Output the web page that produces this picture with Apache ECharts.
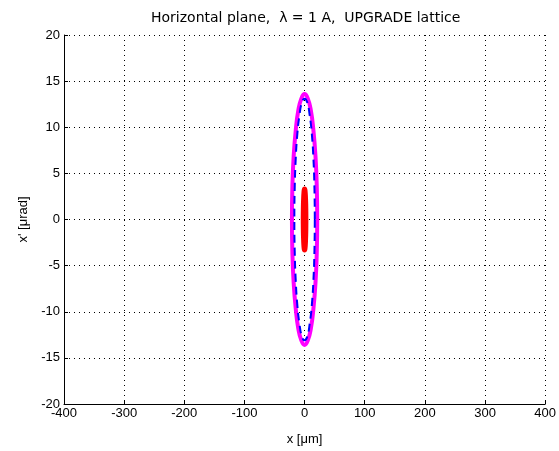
<!DOCTYPE html>
<html>
<head>
<meta charset="utf-8">
<script src="https://cdn.jsdelivr.net/npm/echarts@6/dist/echarts.min.js"></script>
<style>html,body{margin:0;padding:0;background:#fff}#c{width:559px;height:451px}</style>
</head>
<body>
<div id="c"></div>
<script>
// Points (x in μm, x' in μrad), traced around each closed curve
const magentaX = [21, 20.3, 18.2, 14.8, 10.5, 5.4, 0, -5.4, -10.5, -14.8, -18.2, -20.3, -21, -20.3, -18.2, -14.8, -10.5, -5.4, 0, 5.4, 10.5, 14.8, 18.2, 20.3, 21];
const magentaY = [0, 3.5, 6.8, 9.6, 11.8, 13.1, 13.6, 13.1, 11.8, 9.6, 6.8, 3.5, 0, -3.5, -6.8, -9.6, -11.8, -13.1, -13.6, -13.1, -11.8, -9.6, -6.8, -3.5, 0];
const blueX = [17, 16.4, 14.7, 12.0, 8.5, 4.4, 0, -4.4, -8.5, -12.0, -14.7, -16.4, -17, -16.4, -14.7, -12.0, -8.5, -4.4, 0, 4.4, 8.5, 12.0, 14.7, 16.4, 17];
const blueY = [0, 3.4, 6.6, 9.3, 11.3, 12.7, 13.1, 12.7, 11.3, 9.3, 6.6, 3.4, 0, -3.4, -6.6, -9.3, -11.3, -12.7, -13.1, -12.7, -11.3, -9.3, -6.6, -3.4, 0];
const redX = [2.2, 2.1, 1.9, 1.55, 1.1, 0.55, 0, -0.55, -1.1, -1.55, -1.9, -2.1, -2.2, -2.1, -1.9, -1.55, -1.1, -0.55, 0, 0.55, 1.1, 1.55, 1.9, 2.1, 2.2];
const redY = [0, 0.85, 1.65, 2.3, 2.85, 3.2, 3.3, 3.2, 2.85, 2.3, 1.65, 0.85, 0, -0.85, -1.65, -2.3, -2.85, -3.2, -3.3, -3.2, -2.85, -2.3, -1.65, -0.85, 0];

const titleText = 'Horizontal plane,  \u03bb = 1 A,  UPGRADE lattice';
const xName = 'x [\u03bcm]';
const yName = "x' [\u03bcrad]";

function pairs(xs, ys) { return xs.map((x, i) => [x, ys[i]]); }

const FONT = '"Liberation Sans", Arial, sans-serif';
const chart = echarts.init(document.getElementById('c'), null, { renderer: 'canvas' });
const gridLine = { show: true, lineStyle: { color: '#000', width: 1, type: [1, 4] } };
chart.setOption({
  animation: false,
  backgroundColor: '#fff',
  title: {
    text: titleText, left: 151, top: 11, padding: 0,
    textStyle: { fontFamily: '"DejaVu Sans", sans-serif', fontSize: 14, fontWeight: 'normal', color: '#000' }
  },
  grid: { left: 64, right: 10, top: 35, bottom: 46 },
  xAxis: {
    type: 'value', min: -400, max: 400, interval: 100,
    name: xName, nameLocation: 'middle', nameGap: 29,
    nameTextStyle: { fontFamily: FONT, fontSize: 13, color: '#000' },
    axisLine: { show: true, onZero: false, lineStyle: { color: '#000', width: 1 } },
    axisTick: { show: true, inside: true, length: 4, lineStyle: { color: '#000' } },
    axisLabel: { fontFamily: FONT, fontSize: 13, color: '#000', margin: 3 },
    splitLine: gridLine
  },
  yAxis: {
    type: 'value', min: -20, max: 20, interval: 5,
    name: yName, nameLocation: 'middle', nameGap: 30, nameRotate: 90,
    nameTextStyle: { fontFamily: FONT, fontSize: 13, color: '#000' },
    axisLine: { show: true, onZero: false, lineStyle: { color: '#000', width: 1 } },
    axisTick: { show: true, inside: true, length: 4, lineStyle: { color: '#000' } },
    axisLabel: { fontFamily: FONT, fontSize: 13, color: '#000', margin: 4 },
    splitLine: gridLine
  },
  series: [
    { type: 'line', data: pairs(magentaX, magentaY), smooth: 0.5, symbol: 'none',
      lineStyle: { color: '#ff00ff', width: 4 } },
    { type: 'line', data: pairs(blueX, blueY), smooth: 0.5, symbol: 'none',
      lineStyle: { color: '#0000ff', width: 2, type: [8, 5] } },
    { type: 'line', data: pairs(redX, redY), smooth: 0.5, symbol: 'none',
      lineStyle: { color: '#ff0000', width: 5 } }
  ]
});
</script>
</body>
</html>
